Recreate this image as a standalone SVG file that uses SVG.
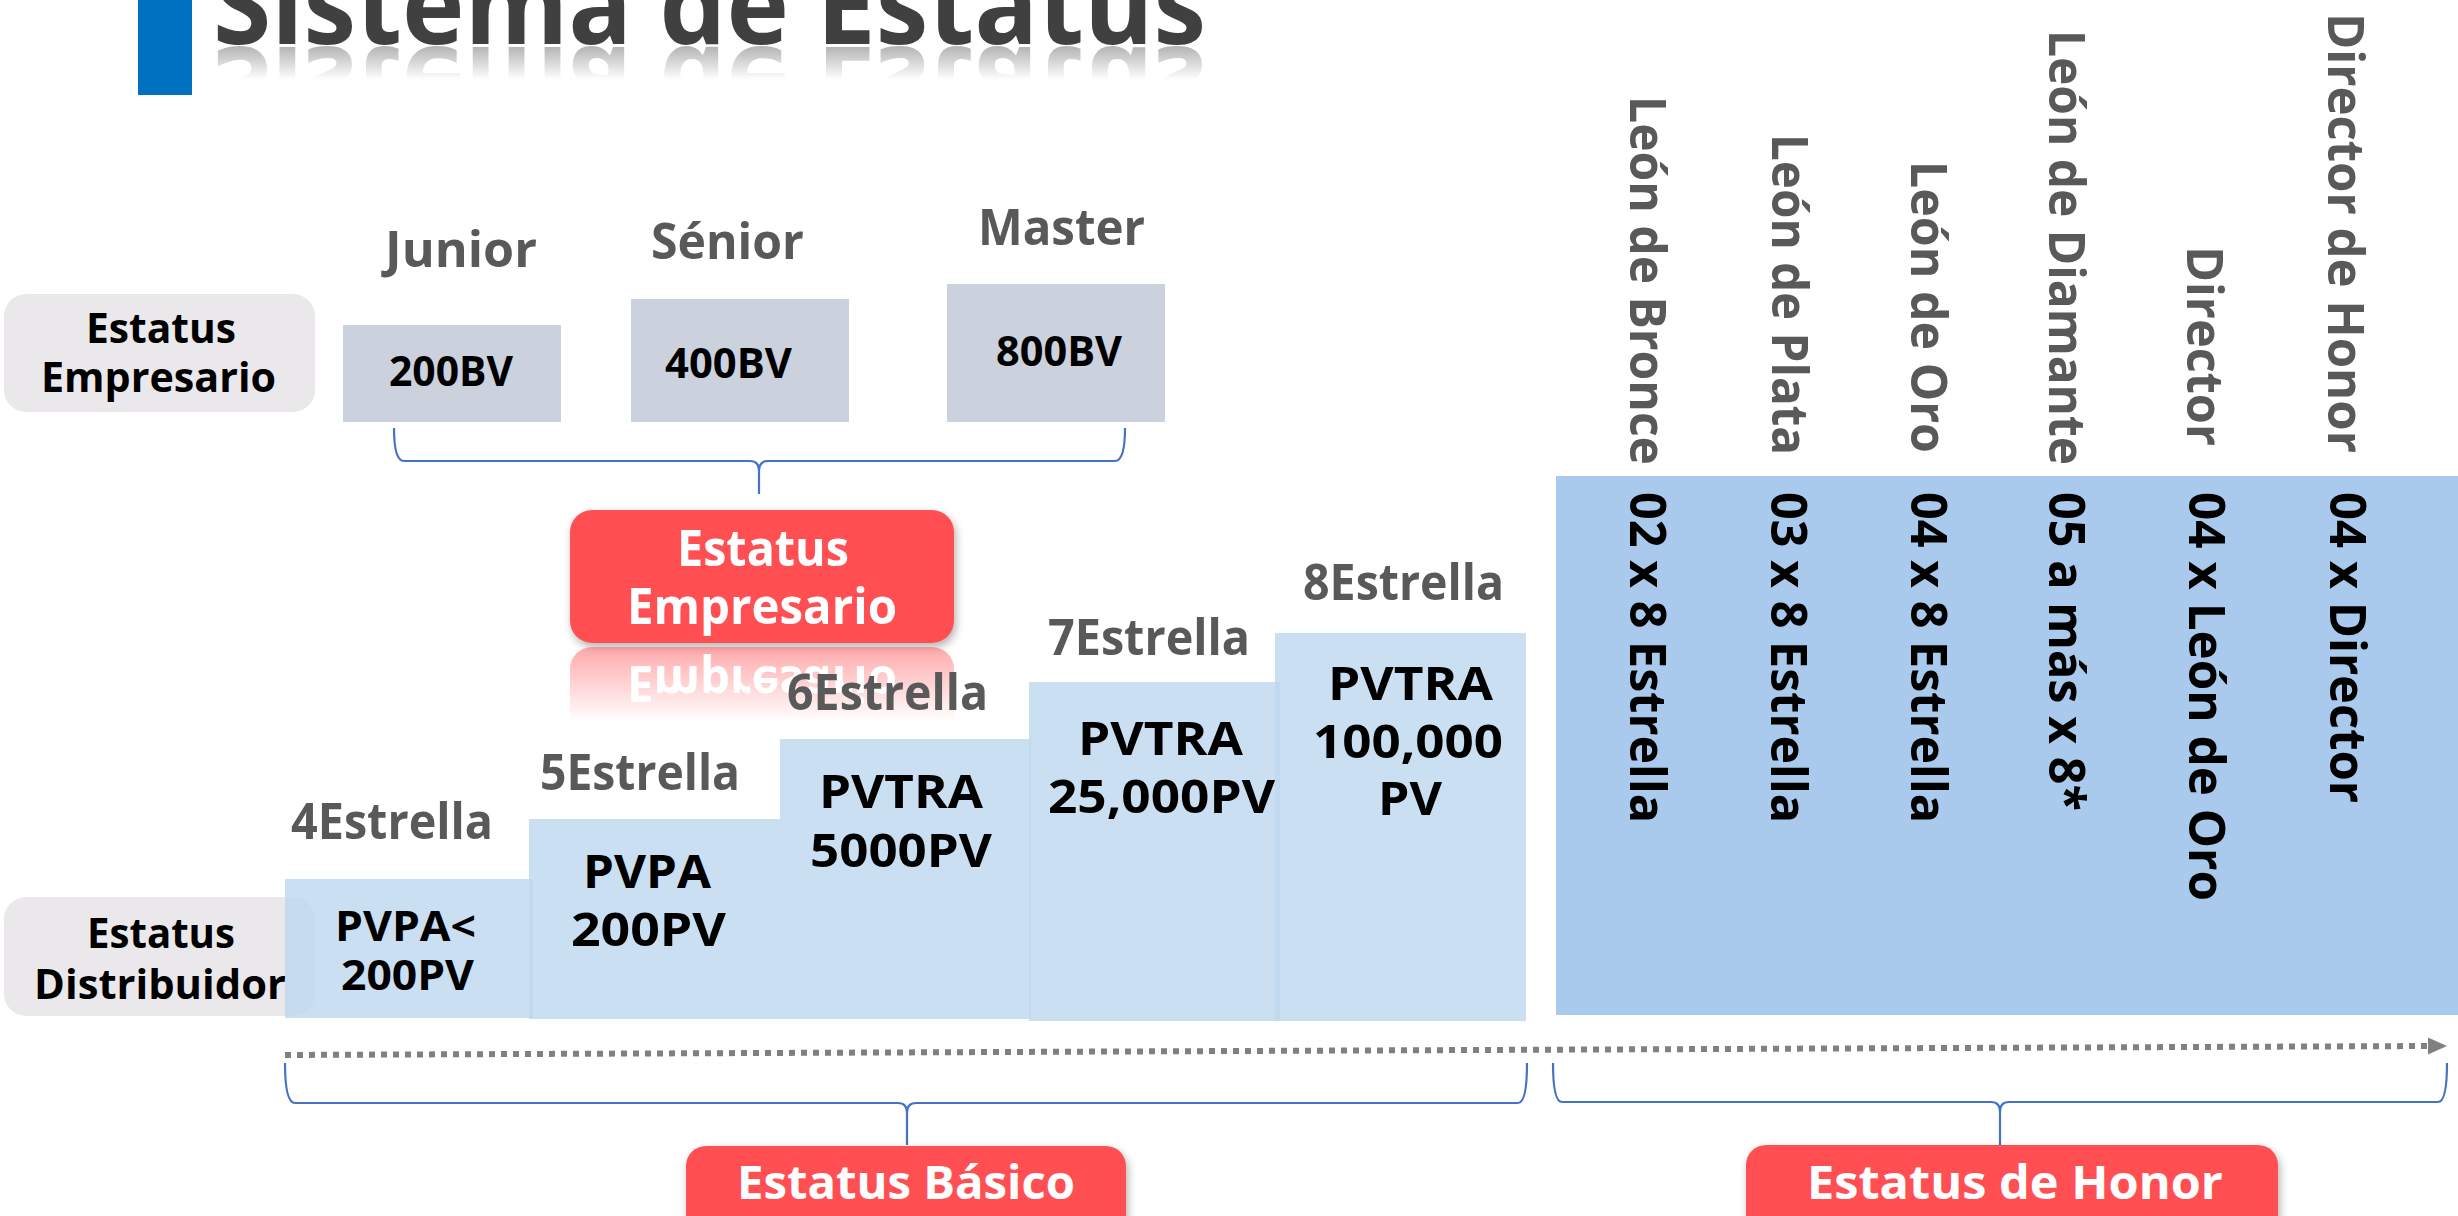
<svg xmlns="http://www.w3.org/2000/svg" width="2458" height="1216" viewBox="0 0 2458 1216">
<style>
text{font-family:"Open Sans","Noto Sans","Liberation Sans",sans-serif;font-weight:700}
.stage{font-size:50px;fill:#595959}
.bv{font-size:41px;fill:#000}
.lab{font-size:41px;fill:#000}
.req{font-size:46px;fill:#000}
.req4{font-size:42px;fill:#000}
.redt{font-size:50px;fill:#fff}
.redb{font-size:46px;fill:#fff}
.vname{font-size:50px;fill:#595959}
.vreq{font-size:50px;fill:#000}
.gbox{fill:#CBD2DE}
.lbox{fill:#EAE8EB}
.step{fill:#BDD7EE;fill-opacity:0.8}
.red{fill:#FF5053}
.brace{fill:none;stroke:#4472C4;stroke-width:2.2}
</style>
<defs>
<filter id="sh" x="-10%" y="-20%" width="120%" height="150%">
<feDropShadow dx="2" dy="4" stdDeviation="4" flood-color="#000" flood-opacity="0.3"/>
</filter>
<linearGradient id="gT" gradientUnits="userSpaceOnUse" x1="0" y1="46" x2="0" y2="80">
<stop offset="0" stop-color="#fff" stop-opacity="0.4"/>
<stop offset="1" stop-color="#fff" stop-opacity="0"/>
</linearGradient>
<mask id="mT" maskUnits="userSpaceOnUse" x="0" y="0" width="2458" height="200">
<rect x="0" y="46" width="2458" height="40" fill="url(#gT)"/>
</mask>
<linearGradient id="gR" gradientUnits="userSpaceOnUse" x1="0" y1="646" x2="0" y2="722">
<stop offset="0" stop-color="#fff" stop-opacity="0.5"/>
<stop offset="1" stop-color="#fff" stop-opacity="0"/>
</linearGradient>
<mask id="mR" maskUnits="userSpaceOnUse" x="0" y="600" width="2458" height="200">
<rect x="0" y="646" width="2458" height="80" fill="url(#gR)"/>
</mask>
<marker id="arr" markerUnits="userSpaceOnUse" markerWidth="20" markerHeight="18" refX="0" refY="8.5" orient="auto">
<path d="M0,0 L19,8.5 L0,17 z" fill="#808080"/>
</marker>
</defs>
<rect width="2458" height="1216" fill="#fff"/>

<g id="title">
<rect x="138" y="0" width="54" height="95" fill="#0070C0"/>
<text x="213" y="44" font-size="110" fill="#404040" textLength="993" lengthAdjust="spacingAndGlyphs">Sistema de Estatus</text>
<g mask="url(#mT)">
<g transform="translate(0,91) scale(1,-1)">
<text x="213" y="44" font-size="110" fill="#404040" textLength="993" lengthAdjust="spacingAndGlyphs">Sistema de Estatus</text>
</g>
</g>
</g>

<g id="label-empresario">
<rect class="lbox" x="4" y="294" width="311" height="118" rx="22"/>
<text class="lab" x="86" y="343" textLength="150" lengthAdjust="spacingAndGlyphs">Estatus</text>
<text class="lab" x="41" y="392" textLength="235" lengthAdjust="spacingAndGlyphs">Empresario</text>
</g>

<g id="junior">
<text class="stage" x="385" y="267" textLength="152" lengthAdjust="spacingAndGlyphs">Junior</text>
<rect class="gbox" x="343" y="325" width="218" height="97"/>
<text class="bv" x="389" y="386" textLength="124" lengthAdjust="spacingAndGlyphs">200BV</text>
</g>
<g id="senior">
<text class="stage" x="651" y="259" textLength="153" lengthAdjust="spacingAndGlyphs">Sénior</text>
<rect class="gbox" x="631" y="299" width="218" height="123"/>
<text class="bv" x="665" y="378" textLength="127" lengthAdjust="spacingAndGlyphs">400BV</text>
</g>
<g id="master">
<text class="stage" x="978" y="245" textLength="167" lengthAdjust="spacingAndGlyphs">Master</text>
<rect class="gbox" x="947" y="284" width="218" height="138"/>
<text class="bv" x="996" y="366" textLength="126" lengthAdjust="spacingAndGlyphs">800BV</text>
</g>

<g id="red-empresario">
<g filter="url(#sh)">
<rect class="red" x="570" y="510" width="384" height="133" rx="22"/>
</g>
<text class="redt" x="677" y="566" textLength="172" lengthAdjust="spacingAndGlyphs">Estatus</text>
<text class="redt" x="627" y="624" textLength="270" lengthAdjust="spacingAndGlyphs">Empresario</text>
<g mask="url(#mR)">
<g transform="translate(0,1290) scale(1,-1)">
<rect class="red" x="570" y="510" width="384" height="133" rx="22"/>
<text class="redt" x="627" y="624" textLength="270" lengthAdjust="spacingAndGlyphs">Empresario</text>
</g>
</g>
</g>

<g id="label-distribuidor">
<rect class="lbox" x="4" y="897" width="311" height="119" rx="22"/>
<text class="lab" x="87" y="948" textLength="148" lengthAdjust="spacingAndGlyphs">Estatus</text>
<text class="lab" x="34" y="999" textLength="252" lengthAdjust="spacingAndGlyphs">Distribuidor</text>
</g>

<g id="estrella4">
<rect class="step" x="285" y="879" width="248" height="139"/>
<text class="stage" x="291" y="839" textLength="202" lengthAdjust="spacingAndGlyphs">4Estrella</text>
<text class="req4" x="335" y="941" textLength="141" lengthAdjust="spacingAndGlyphs">PVPA&lt;</text>
<text class="req4" x="341" y="990" textLength="133" lengthAdjust="spacingAndGlyphs">200PV</text>
</g>
<g id="estrella5">
<rect class="step" x="529" y="819" width="251" height="200"/>
<text class="stage" x="540" y="790" textLength="200" lengthAdjust="spacingAndGlyphs">5Estrella</text>
<text class="req" x="583" y="888" textLength="128" lengthAdjust="spacingAndGlyphs">PVPA</text>
<text class="req" x="571" y="946" textLength="155" lengthAdjust="spacingAndGlyphs">200PV</text>
</g>
<g id="estrella6">
<rect class="step" x="780" y="739" width="251" height="280"/>
<text class="stage" x="787" y="710" textLength="201" lengthAdjust="spacingAndGlyphs">6Estrella</text>
<text class="req" x="819" y="808" textLength="164" lengthAdjust="spacingAndGlyphs">PVTRA</text>
<text class="req" x="810" y="867" textLength="182" lengthAdjust="spacingAndGlyphs">5000PV</text>
</g>
<g id="estrella7">
<rect class="step" x="1029" y="682" width="251" height="339"/>
<text class="stage" x="1048" y="655" textLength="202" lengthAdjust="spacingAndGlyphs">7Estrella</text>
<text class="req" x="1078" y="755" textLength="165" lengthAdjust="spacingAndGlyphs">PVTRA</text>
<text class="req" x="1048" y="813" textLength="227" lengthAdjust="spacingAndGlyphs">25,000PV</text>
</g>
<g id="estrella8">
<rect class="step" x="1275" y="633" width="251" height="388"/>
<text class="stage" x="1303" y="600" textLength="201" lengthAdjust="spacingAndGlyphs">8Estrella</text>
<text class="req" x="1328" y="700" textLength="165" lengthAdjust="spacingAndGlyphs">PVTRA</text>
<text class="req" x="1313" y="758" textLength="190" lengthAdjust="spacingAndGlyphs">100,000</text>
<text class="req" x="1378" y="815" textLength="64" lengthAdjust="spacingAndGlyphs">PV</text>
</g>

<g id="honor">
<rect x="1556" y="476" width="902" height="539" fill="#A9CAEC"/>
<g id="bronce">
<text class="vname" transform="translate(1630,96) rotate(90)" textLength="369" lengthAdjust="spacingAndGlyphs">León de Bronce</text>
<text class="vreq" transform="translate(1630,492) rotate(90)" textLength="331" lengthAdjust="spacingAndGlyphs">02 x 8 Estrella</text>
</g>
<g id="plata">
<text class="vname" transform="translate(1772,134) rotate(90)" textLength="321" lengthAdjust="spacingAndGlyphs">León de Plata</text>
<text class="vreq" transform="translate(1771,492) rotate(90)" textLength="331" lengthAdjust="spacingAndGlyphs">03 x 8 Estrella</text>
</g>
<g id="oro">
<text class="vname" transform="translate(1911,161) rotate(90)" textLength="292" lengthAdjust="spacingAndGlyphs">León de Oro</text>
<text class="vreq" transform="translate(1911,492) rotate(90)" textLength="331" lengthAdjust="spacingAndGlyphs">04 x 8 Estrella</text>
</g>
<g id="diamante">
<text class="vname" transform="translate(2049,30) rotate(90)" textLength="435" lengthAdjust="spacingAndGlyphs">León de Diamante</text>
<text class="vreq" transform="translate(2049,492) rotate(90)" textLength="319" lengthAdjust="spacingAndGlyphs">05 a más x 8*</text>
</g>
<g id="director">
<text class="vname" transform="translate(2187,246) rotate(90)" textLength="200" lengthAdjust="spacingAndGlyphs">Director</text>
<text class="vreq" transform="translate(2189,492) rotate(90)" textLength="409" lengthAdjust="spacingAndGlyphs">04 x León de Oro</text>
</g>
<g id="director-honor">
<text class="vname" transform="translate(2328,13) rotate(90)" textLength="440" lengthAdjust="spacingAndGlyphs">Director de Honor</text>
<text class="vreq" transform="translate(2330,492) rotate(90)" textLength="311" lengthAdjust="spacingAndGlyphs">04 x Director</text>
</g>
</g>

<g id="connectors">
<path class="brace" d="M394,428 Q394,461 404,461 L750,461 Q759,461 759,471 L759,494 M759,471 Q759,461 768,461 L1115,461 Q1125,461 1125,428"/>
<path class="brace" d="M285,1063 Q285,1103 295,1103 L898,1103 Q907,1103 907,1113 L907,1145 M907,1113 Q907,1103 916,1103 L1518,1103 Q1527,1103 1527,1063"/>
<path class="brace" d="M1553,1063 Q1553,1102 1562,1102 L1991,1102 Q2000,1102 2000,1112 L2000,1145 M2000,1112 Q2000,1102 2009,1102 L2438,1102 Q2447,1102 2447,1063"/>
<line x1="285" y1="1055" x2="2428" y2="1046" stroke="#808080" stroke-width="6" stroke-dasharray="6 6" marker-end="url(#arr)"/>
</g>

<g id="basico">
<g filter="url(#sh)">
<rect class="red" x="686" y="1146" width="440" height="100" rx="20"/>
</g>
<text class="redb" x="737" y="1199" textLength="338" lengthAdjust="spacingAndGlyphs">Estatus Básico</text>
</g>
<g id="estatus-honor">
<g filter="url(#sh)">
<rect class="red" x="1746" y="1145" width="532" height="100" rx="20"/>
</g>
<text class="redb" x="1807" y="1199" textLength="416" lengthAdjust="spacingAndGlyphs">Estatus de Honor</text>
</g>
</svg>
